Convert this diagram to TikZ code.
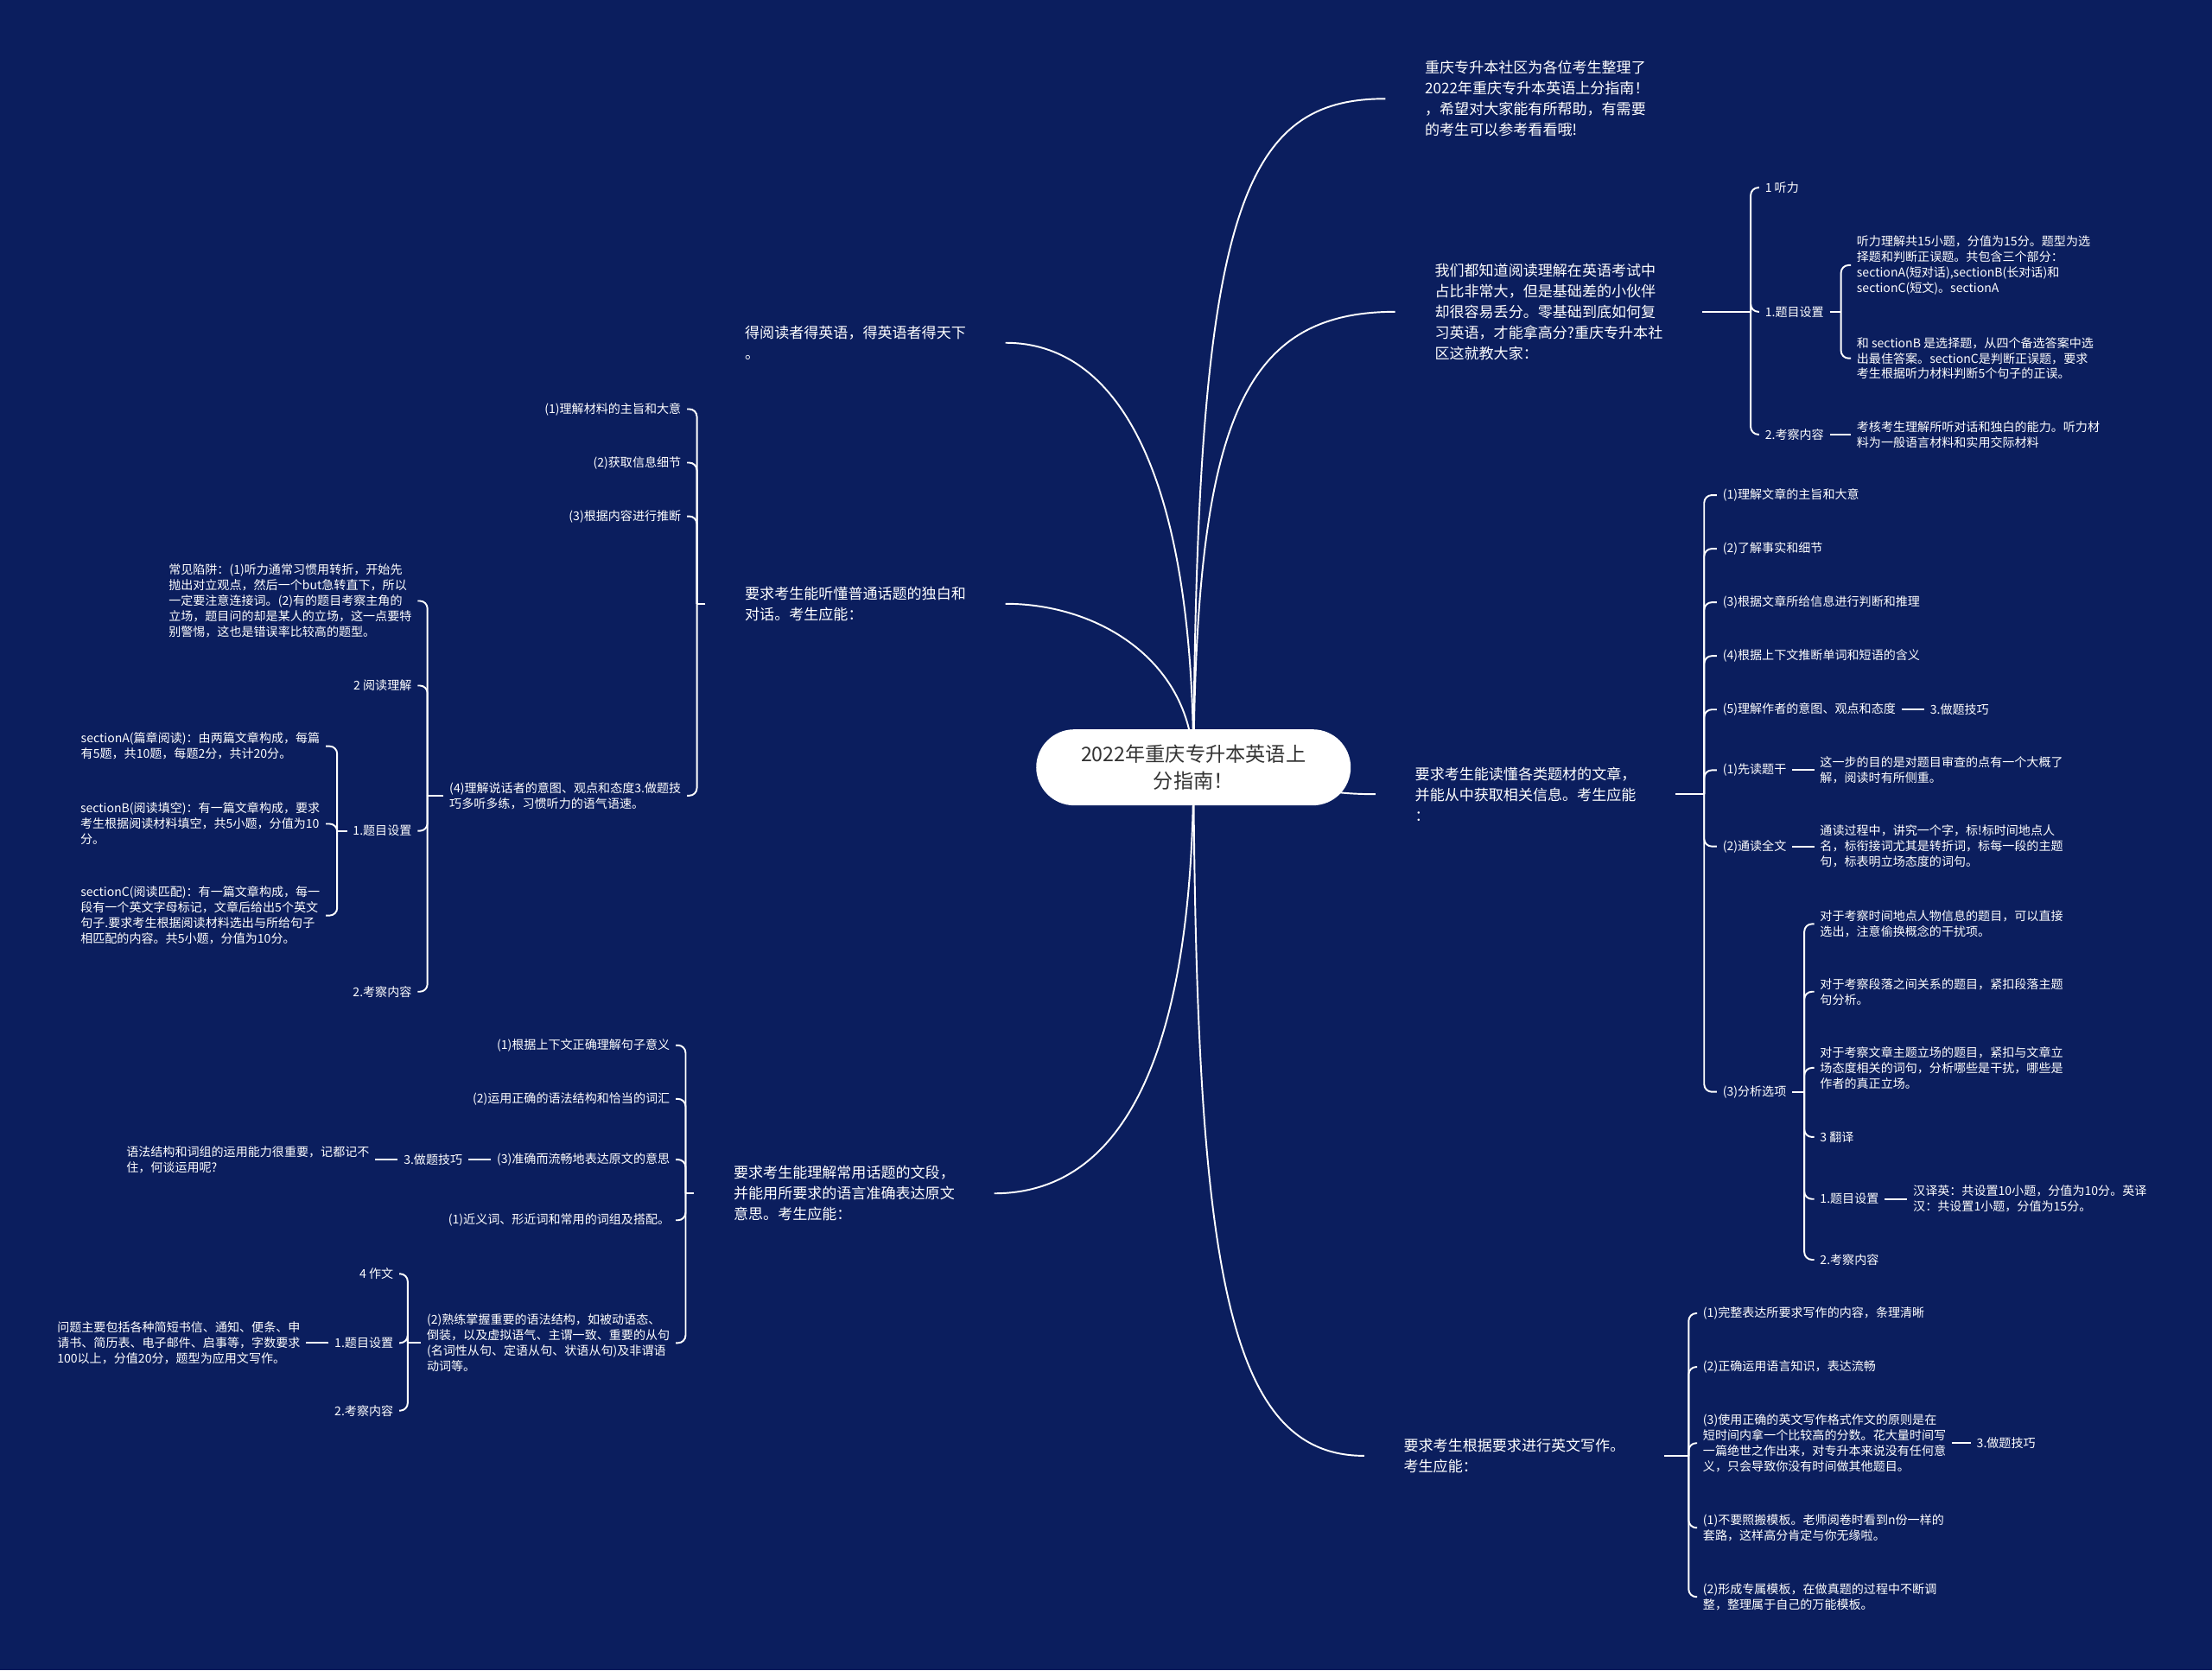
\documentclass[tikz,border=0pt]{standalone}
\usepackage{fontspec}
\setmainfont{Noto Sans CJK SC}
\usepackage{tikz}
\definecolor{navy}{RGB}{11,30,94}
\definecolor{ink}{RGB}{51,51,51}

\begin{document}
\begin{tikzpicture}[x=0.032653cm,y=-0.032653cm,
		link/.style={white,line width=1.1pt},
		fork/.style={link,rounded corners=5pt},
		big/.style={text=white,font=\fontsize{9.7}{13.6}\selectfont,align=left,inner xsep=0.91cm,inner ysep=2pt},
		small/.style={text=white,font=\fontsize{8}{10.2}\selectfont,align=left,inner xsep=0.13cm,inner ysep=1pt}]
		\useasboundingbox (0,0) rectangle (1568,1184);
		\fill[navy] (0,0) rectangle (1568,1184);
		
		\coordinate (hub) at (846,544);
		
		\node[big,anchor=west] (intro) at (982,70) {重庆专升本社区为各位考生整理了\\2022年重庆专升本英语上分指南！\\，希望对大家能有所帮助，有需要\\的考生可以参考看看哦!};
		\node[big,anchor=west] (know) at (989,221) {我们都知道阅读理解在英语考试中\\占比非常大，但是基础差的小伙伴\\却很容易丢分。零基础到底如何复\\习英语，才能拿高分?重庆专升本社\\区这就教大家：};
		\node[big,anchor=west] (read) at (975,563) {要求考生能读懂各类题材的文章，\\并能从中获取相关信息。考生应能\\：};
		\node[big,anchor=west] (write) at (967,1032) {要求考生根据要求进行英文写作。\\考生应能：};
		\node[big,anchor=west] (motto) at (500,243) {得阅读者得英语，得英语者得天下\\。};
		\node[big,anchor=west] (listen) at (500,428) {要求考生能听懂普通话题的独白和\\对话。考生应能：};
		\node[big,anchor=west] (expr) at (492,846) {要求考生能理解常用话题的文段，\\并能用所要求的语言准确表达原文\\意思。考生应能：};
		
		\draw[link] (hub) .. controls (848,150) and (880,70) .. (intro.west);
		\draw[link] (hub) .. controls (848,300) and (880,221) .. (know.west);
		\draw[link] (hub) .. controls (910,544) and (910,563) .. (read.west);
		\draw[link] (hub) .. controls (848,900) and (870,1032) .. (write.west);
		\draw[link] (hub) .. controls (846,330) and (790,243) .. (motto.east);
		\draw[link] (hub) .. controls (846,470) and (780,428) .. (listen.east);
		\draw[link] (hub) .. controls (846,760) and (790,846) .. (expr.east);
		
		\node[fill=white,text=ink,rounded corners=0.88cm,minimum width=7.28cm,minimum height=1.76cm,align=center,font=\fontsize{13.2}{18}\selectfont] (root) at (hub) {2022年重庆专升本英语上\\分指南！};
		
		\node[small,anchor=west] (k1) at (1247,133) {1 听力};
		\node[small,anchor=west] (k2) at (1247,221) {1.题目设置};
		\node[small,anchor=west] (k3) at (1247,308) {2.考察内容};
		\node[small,anchor=west] (k2a) at (1312,188) {听力理解共15小题，分值为15分。题型为选\\择题和判断正误题。共包含三个部分：\\sectionA(短对话),sectionB(长对话)和\\sectionC(短文)。sectionA};
		\node[small,anchor=west] (k2b) at (1312,254) {和 sectionB 是选择题，从四个备选答案中选\\出最佳答案。sectionC是判断正误题，要求\\考生根据听力材料判断5个句子的正误。};
		\node[small,anchor=west] (k3a) at (1312,308) {考核考生理解所听对话和独白的能力。听力材\\料为一般语言材料和实用交际材料};
		\coordinate (know-j) at (1241,221);
		\coordinate (k2-j) at (1305,221);
		\draw[link] (know.east) -- (know-j);
		\foreach \c in {k1,k2,k3} \draw[fork] (know-j) |- (\c.west);
		\draw[link] (k2.east) -- (k2-j);
		\foreach \c in {k2a,k2b} \draw[fork] (k2-j) |- (\c.west);
		\draw[link] (k3.east) -- (k3a.west);
		
		\node[small,anchor=west] (r1) at (1217,351) {(1)理解文章的主旨和大意};
		\node[small,anchor=west] (r2) at (1217,389) {(2)了解事实和细节};
		\node[small,anchor=west] (r3) at (1217,427) {(3)根据文章所给信息进行判断和推理};
		\node[small,anchor=west] (r4) at (1217,465) {(4)根据上下文推断单词和短语的含义};
		\node[small,anchor=west] (r5) at (1217,503) {(5)理解作者的意图、观点和态度};
		\node[small,anchor=west] (r5a) at (1364,503) {3.做题技巧};
		\node[small,anchor=west] (r6) at (1217,546) {(1)先读题干};
		\node[small,anchor=west] (r6a) at (1286,546) {这一步的目的是对题目审查的点有一个大概了\\解，阅读时有所侧重。};
		\node[small,anchor=west] (r7) at (1217,600) {(2)通读全文};
		\node[small,anchor=west] (r7a) at (1286,600) {通读过程中，讲究一个字，标!标时间地点人\\名，标衔接词尤其是转折词，标每一段的主题\\句，标表明立场态度的词句。};
		\node[small,anchor=west] (r8) at (1217,774) {(3)分析选项};
		\node[small,anchor=west] (r8a) at (1286,655) {对于考察时间地点人物信息的题目，可以直接\\选出，注意偷换概念的干扰项。};
		\node[small,anchor=west] (r8b) at (1286,703) {对于考察段落之间关系的题目，紧扣段落主题\\句分析。};
		\node[small,anchor=west] (r8c) at (1286,757) {对于考察文章主题立场的题目，紧扣与文章立\\场态度相关的词句，分析哪些是干扰，哪些是\\作者的真正立场。};
		\node[small,anchor=west] (r8d) at (1286,806) {3 翻译};
		\node[small,anchor=west] (r8e) at (1286,850) {1.题目设置};
		\node[small,anchor=west] (r8ea) at (1352,850) {汉译英：共设置10小题，分值为10分。英译\\汉：共设置1小题，分值为15分。};
		\node[small,anchor=west] (r8f) at (1286,893) {2.考察内容};
		\coordinate (read-j) at (1208,563);
		\coordinate (r8-j) at (1279,774);
		\draw[link] (read.east) -- (read-j);
		\foreach \c in {r1,r2,r3,r4,r5,r6,r7,r8} \draw[fork] (read-j) |- (\c.west);
		\draw[link] (r5.east) -- (r5a.west);
		\draw[link] (r6.east) -- (r6a.west);
		\draw[link] (r7.east) -- (r7a.west);
		\draw[link] (r8.east) -- (r8-j);
		\foreach \c in {r8a,r8b,r8c,r8d,r8e,r8f} \draw[fork] (r8-j) |- (\c.west);
		\draw[link] (r8e.east) -- (r8ea.west);
		
		\node[small,anchor=west] (w1) at (1203,931) {(1)完整表达所要求写作的内容，条理清晰};
		\node[small,anchor=west] (w2) at (1203,969) {(2)正确运用语言知识，表达流畅};
		\node[small,anchor=west] (w3) at (1203,1023) {(3)使用正确的英文写作格式作文的原则是在\\短时间内拿一个比较高的分数。花大量时间写\\一篇绝世之作出来，对专升本来说没有任何意\\义，只会导致你没有时间做其他题目。};
		\node[small,anchor=west] (w3a) at (1397,1023) {3.做题技巧};
		\node[small,anchor=west] (w4) at (1203,1083) {(1)不要照搬模板。老师阅卷时看到n份一样的\\套路，这样高分肯定与你无缘啦。};
		\node[small,anchor=west] (w5) at (1203,1132) {(2)形成专属模板，在做真题的过程中不断调\\整，整理属于自己的万能模板。};
		\coordinate (write-j) at (1197,1032);
		\draw[link] (write.east) -- (write-j);
		\foreach \c in {w1,w2,w3,w4,w5} \draw[fork] (write-j) |- (\c.west);
		\draw[link] (w3.east) -- (w3a.west);
		
		\node[small,anchor=east] (l1) at (487,290) {(1)理解材料的主旨和大意};
		\node[small,anchor=east] (l2) at (487,328) {(2)获取信息细节};
		\node[small,anchor=east] (l3) at (487,366) {(3)根据内容进行推断};
		\node[small,anchor=east] (l4) at (487,564) {(4)理解说话者的意图、观点和态度3.做题技\\巧多听多练，习惯听力的语气语速。};
		\node[small,anchor=east] (l4a) at (296,426) {常见陷阱：(1)听力通常习惯用转折，开始先\\抛出对立观点，然后一个but急转直下，所以\\一定要注意连接词。(2)有的题目考察主角的\\立场，题目问的却是某人的立场，这一点要特\\别警惕，这也是错误率比较高的题型。};
		\node[small,anchor=east] (l4b) at (296,486) {2 阅读理解};
		\node[small,anchor=east] (l4c) at (296,589) {1.题目设置};
		\node[small,anchor=east] (l4d) at (296,703) {2.考察内容};
		\node[small,anchor=east] (l4c1) at (231,529) {sectionA(篇章阅读)：由两篇文章构成，每篇\\有5题，共10题，每题2分，共计20分。};
		\node[small,anchor=east] (l4c2) at (231,584) {sectionB(阅读填空)：有一篇文章构成，要求\\考生根据阅读材料填空，共5小题，分值为10\\分。};
		\node[small,anchor=east] (l4c3) at (231,649) {sectionC(阅读匹配)：有一篇文章构成，每一\\段有一个英文字母标记，文章后给出5个英文\\句子.要求考生根据阅读材料选出与所给句子\\相匹配的内容。共5小题，分值为10分。};
		\coordinate (listen-j) at (494,428);
		\coordinate (l4-j) at (303,564);
		\coordinate (l4c-j) at (239,589);
		\draw[link] (listen.west) -- (listen-j);
		\foreach \c in {l1,l2,l3,l4} \draw[fork] (listen-j) |- (\c.east);
		\draw[link] (l4.west) -- (l4-j);
		\foreach \c in {l4a,l4b,l4c,l4d} \draw[fork] (l4-j) |- (\c.east);
		\draw[link] (l4c.west) -- (l4c-j);
		\foreach \c in {l4c1,l4c2,l4c3} \draw[fork] (l4c-j) |- (\c.east);
		
		\node[small,anchor=east] (e1) at (479,741) {(1)根据上下文正确理解句子意义};
		\node[small,anchor=east] (e2) at (479,779) {(2)运用正确的语法结构和恰当的词汇};
		\node[small,anchor=east] (e3) at (479,822) {(3)准确而流畅地表达原文的意思};
		\node[small,anchor=east] (e3a) at (332,822) {3.做题技巧};
		\node[small,anchor=east] (e3b) at (266,822) {语法结构和词组的运用能力很重要，记都记不\\住，何谈运用呢?};
		\node[small,anchor=east] (e4) at (479,865) {(1)近义词、形近词和常用的词组及搭配。};
		\node[small,anchor=east] (e5) at (479,952) {(2)熟练掌握重要的语法结构，如被动语态、\\倒装，以及虚拟语气、主谓一致、重要的从句\\(名词性从句、定语从句、状语从句)及非谓语\\动词等。};
		\node[small,anchor=east] (e5a) at (283,903) {4 作文};
		\node[small,anchor=east] (e5b) at (283,952) {1.题目设置};
		\node[small,anchor=east] (e5b1) at (217,952) {问题主要包括各种简短书信、通知、便条、申\\请书、简历表、电子邮件、启事等，字数要求\\100以上，分值20分，题型为应用文写作。};
		\node[small,anchor=east] (e5c) at (283,1000) {2.考察内容};
		\coordinate (expr-j) at (486,846);
		\coordinate (e5-j) at (289,952);
		\draw[link] (expr.west) -- (expr-j);
		\foreach \c in {e1,e2,e3,e4,e5} \draw[fork] (expr-j) |- (\c.east);
		\draw[link] (e3.west) -- (e3a.east);
		\draw[link] (e3a.west) -- (e3b.east);
		\draw[link] (e5.west) -- (e5-j);
		\foreach \c in {e5a,e5b,e5c} \draw[fork] (e5-j) |- (\c.east);
		\draw[link] (e5b.west) -- (e5b1.east);
	\end{tikzpicture}
\end{document}
